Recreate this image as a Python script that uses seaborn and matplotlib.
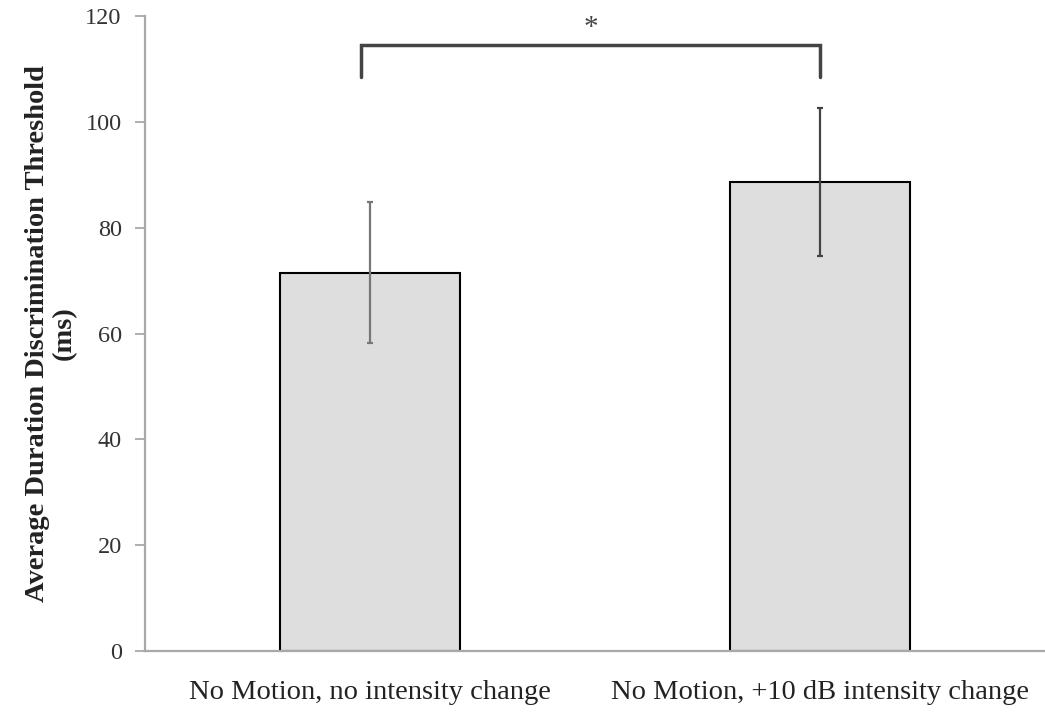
import numpy as np
import matplotlib
matplotlib.use("Agg")
import matplotlib.pyplot as plt
import pandas as pd
import seaborn as sns

# data
conditions = ["No Motion, no intensity change", "No Motion, +10 dB intensity change"]
thresholds = [71.5, 88.7]
errors = [13.3, 14.0]
bracket_y = 114.5
bracket_drop = 6.0

sns.set_theme(style="white")
plt.rcParams['font.family'] = ['Liberation Serif', 'DejaVu Serif']

fig = plt.figure(figsize=(10.45, 7.12), dpi=100)
ax = fig.add_axes([0.139, 0.0857, 0.861, 0.8918])

df = pd.DataFrame({"condition": conditions, "threshold": thresholds})
sns.barplot(data=df, x="condition", y="threshold", errorbar=None,
            color="#dedede", edgecolor="black", linewidth=1.5, width=0.4,
            saturation=1, ax=ax)

# error bars at bar centres
xs = [p.get_x() + p.get_width() / 2 for p in ax.patches]
ax.errorbar(xs[0], thresholds[0], yerr=errors[0], fmt="none",
            ecolor="#777777", elinewidth=1.6, capsize=2, capthick=1.6)
ax.errorbar(xs[1], thresholds[1], yerr=errors[1], fmt="none",
            ecolor="#444444", elinewidth=1.6, capsize=2, capthick=1.6)

# significance bracket
x0, x1 = xs[0] - 0.02, xs[1]
ax.plot([x0, x0, x1, x1],
        [bracket_y - bracket_drop, bracket_y, bracket_y, bracket_y - bracket_drop],
        color="#444444", lw=2.5, solid_joinstyle="miter", clip_on=False)
ax.text((x0 + x1) / 2, bracket_y + 0.8, "*", ha="center", va="bottom",
        fontsize=21, color="#444444")

ax.set_ylim(0, 120)
ax.set_xlim(-0.5, 1.5)
ax.set_yticks(np.arange(0, 121, 20))
ax.set_xlabel("")
ax.set_ylabel("Average Duration Discrimination Threshold\n(ms)",
              fontsize=20.5, fontweight="bold", color="#222222", labelpad=6,
              linespacing=1.1)

for s in ["top", "right"]:
    ax.spines[s].set_visible(False)
for s in ["left", "bottom"]:
    ax.spines[s].set_color("#a8a8a8")
    ax.spines[s].set_linewidth(1.6)

ax.tick_params(axis="y", direction="out", length=7, width=1.3, color="#a8a8a8",
               labelsize=17.5, labelcolor="#333333", pad=10, left=True)
ax.tick_params(axis="x", length=0, labelsize=20.5, labelcolor="#222222", pad=21)

fig.savefig("out.png", dpi=100)
